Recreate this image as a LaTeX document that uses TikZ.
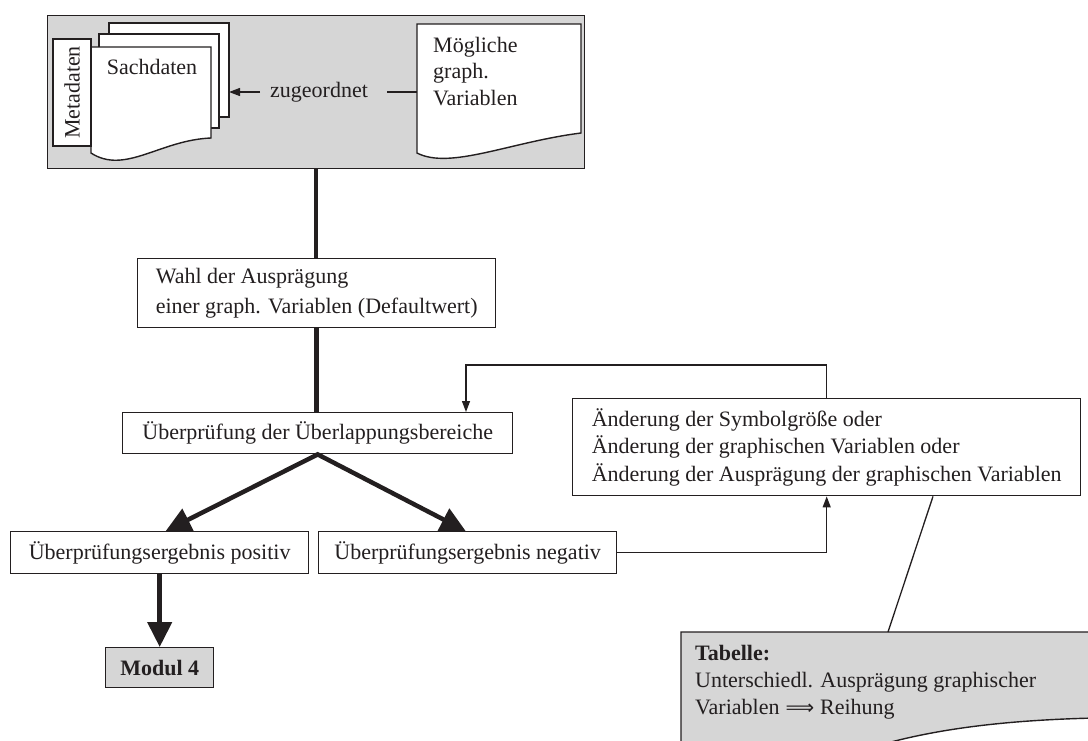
\documentclass[tikz,border=0pt]{standalone}
\usepackage{fontspec}
\setmainfont{Liberation Serif}
\newfontfamily\arrowglyphs{DejaVu Sans}
\usetikzlibrary{arrows.meta}
\definecolor{panel}{HTML}{D6D6D6}
\definecolor{ink}{HTML}{231F20}

\begin{document}
\begin{tikzpicture}[x=1pt,y=-1pt,
  every node/.style={font=\fontsize{22}{27.5}\selectfont, text=ink},
  box/.style={draw=ink, line width=1.4pt, fill=white, anchor=north west,
    inner sep=0pt, align=left},
  paper/.style={draw=ink, line width=1.4pt, fill=white},
  thickline/.style={draw=ink, line width=4.5pt},
  bigtip/.tip={Triangle[length=25pt,width=24pt]},
  thickarrow/.style={thickline, -bigtip},
  thinline/.style={draw=ink, line width=1.3pt},
  thinarrow/.style={thinline, -{Triangle[length=11pt,width=8pt]}},
]
\useasboundingbox (0,0) rectangle (1088,740);
\clip (0,0) rectangle (1088,740);

% data panel with the stacked documents
\node[box, fill=panel, minimum width=537pt, minimum height=153pt] (top) at (47,15) {};
\draw[paper] (109,23) rectangle (229,117);
\draw[paper] (99,34) rectangle (219,128);
\draw[paper] (91,47) -- (211,47) -- (211,138)
  .. controls (160,140) and (125,175) .. (91,153) -- cycle;
\node[draw=ink, line width=1.4pt, fill=white, rotate=90, inner sep=0pt,
  minimum width=107pt, minimum height=38pt] (meta) at (72,92.5) {Metadaten};
\node (sach) at (152,67) {Sachdaten};
\coordinate (sachback) at (229,92);

\draw[paper] (417,24) -- (581,24) -- (581,133)
  .. controls (510,142) and (450,170) .. (417,153) -- cycle;
\node[anchor=north west, align=left, inner sep=0pt,
  font=\fontsize{22}{26.5}\selectfont] (moegl) at (433,37)
  {Mögliche\\graph.\\Variablen};
\coordinate (moeglwest) at (417,92);

\node[anchor=west, inner sep=0pt] (zug) at (270,92) {zugeordnet};
\draw[thinarrow] ([xshift=-10pt]zug.west) -- (sachback);
\draw[thinline] ([xshift=19pt]zug.east) -- (moeglwest);

% process boxes
\node[box, minimum width=358pt, minimum height=69pt,
  font=\fontsize{22}{30}\selectfont] (wahl) at (137,258)
  {Wahl der Ausprägung\\einer graph. Variablen (Defaultwert)};
\node[box, minimum width=390pt, minimum height=41pt] (ueber) at (122,412)
  {Überprüfung der Überlappungsbereiche};
\node[box, minimum width=298pt, minimum height=42pt] (pos) at (10,531)
  {Überprüfungsergebnis positiv};
\node[box, minimum width=298pt, minimum height=42pt] (neg) at (318,531)
  {Überprüfungsergebnis negativ};
\node[box, fill=panel, minimum width=108pt, minimum height=40pt,
  font=\fontsize{22}{27.5}\selectfont\bfseries] (mod) at (105,647) {Modul 4};
\node[box, minimum width=508pt, minimum height=97pt] (aend) at (572,398)
  {Änderung der Symbolgröße oder\\Änderung der graphischen Variablen oder\\Änderung der Ausprägung der graphischen Variablen};

% table note
\filldraw[fill=panel, draw=ink, line width=1.4pt] (681,745) -- (681,632) -- (1095,632) -- (1095,718)
  .. controls (1010,720) and (940,728) .. (880,745);
\node[anchor=north west, align=left, inner sep=0pt,
  font=\fontsize{22}{27}\selectfont] (tab) at (695,645)
  {\textbf{Tabelle:}\\Unterschiedl. Ausprägung graphischer\\Variablen\hspace{6pt}{\arrowglyphs\fontsize{20}{27}\selectfont ⟹}\hspace{6pt}Reihung};
\coordinate (tabtop) at (888,632);

% connectors
\draw[thickline] (top.south) -- (top.south |- wahl.north);
\draw[thickline] (wahl.south) -- (wahl.south |- ueber.north);
\draw[thickline, bigtip-bigtip] ([xshift=6pt]pos.north) -- (ueber.south) -- ([xshift=-2pt]neg.north);
\draw[thickarrow] (pos.south) -- (mod.north);
\draw[thinarrow] (neg.east) -| (aend.south);
\coordinate (fbk) at (466,365);
\draw[thinarrow] (aend.north) |- (fbk) -- (fbk |- ueber.north);
\draw[thinline] ([xshift=361pt]aend.south west) -- (tabtop);
\end{tikzpicture}
\end{document}
